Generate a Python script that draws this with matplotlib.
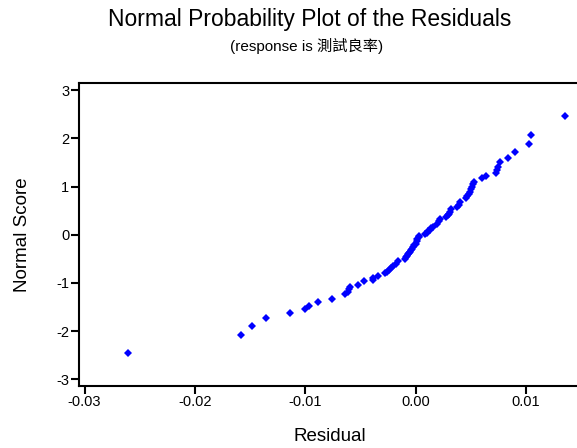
import matplotlib
matplotlib.use("Agg")
import matplotlib.pyplot as plt

# residuals (x) and normal scores (y)
residual = [
    -0.0261, -0.0158, -0.0148, -0.0136, -0.0114, -0.0100, -0.0097, -0.0088,
    -0.0076, -0.0064, -0.0061, -0.0060, -0.0059, -0.0052, -0.0047, -0.0039,
    -0.0039, -0.0034, -0.0028, -0.0026, -0.0024, -0.0022, -0.0020, -0.0018,
    -0.0016, -0.0010, -0.0009, -0.0008, -0.0007, -0.0006, -0.0005, -0.0004,
    -0.0003, -0.0002, -0.0001, 0.0000, 0.0001, 0.0001, 0.0003, 0.0003,
    0.0009, 0.0010, 0.0011, 0.0013, 0.0014, 0.0016, 0.0019, 0.0021,
    0.0022, 0.0028, 0.0029, 0.0030, 0.0031, 0.0032, 0.0038, 0.0039,
    0.0040, 0.0046, 0.0047, 0.0048, 0.0049, 0.0050, 0.0051, 0.0052,
    0.0053, 0.0060, 0.0064, 0.0073, 0.0074, 0.0075, 0.0077, 0.0084,
    0.0090, 0.0103, 0.0105, 0.01355,
]
normal_score = [
    -2.46, -2.08, -1.89, -1.73, -1.62, -1.54, -1.47, -1.39,
    -1.33, -1.24, -1.19, -1.13, -1.09, -1.04, -0.97, -0.93,
    -0.90, -0.85, -0.80, -0.77, -0.73, -0.69, -0.64, -0.60,
    -0.55, -0.50, -0.47, -0.44, -0.41, -0.38, -0.35, -0.32,
    -0.29, -0.26, -0.22, -0.19, -0.13, -0.09, -0.05, -0.02,
    0.01, 0.04, 0.07, 0.10, 0.14, 0.17, 0.23, 0.28,
    0.33, 0.36, 0.40, 0.44, 0.48, 0.53, 0.58, 0.62,
    0.67, 0.76, 0.80, 0.84, 0.89, 0.95, 1.00, 1.05,
    1.09, 1.18, 1.21, 1.29, 1.35, 1.40, 1.51, 1.60,
    1.72, 1.88, 2.07, 2.46,
]
x_ticks = [-0.03, -0.02, -0.01, 0.00, 0.01]
y_ticks = [-3, -2, -1, 0, 1, 2, 3]

fonts = ['Liberation Sans', 'Noto Sans CJK TC', 'DejaVu Sans']
plt.rcParams['font.family'] = fonts
plt.rcParams['axes.unicode_minus'] = False

fig = plt.figure(figsize=(5.77, 4.48), dpi=100)
ax = fig.add_axes([0.137, 0.138, 0.87, 0.676])

ax.plot(residual, normal_score, linestyle='none', marker='D',
        markersize=4.4, color='#0000ff', markeredgewidth=0)

ax.set_xlim(-0.0305, 0.0150)
ax.set_ylim(-3.145, 3.145)
ax.set_xticks(x_ticks)
ax.set_xticklabels(['%.2f' % v for v in x_ticks])
ax.set_yticks(y_ticks)
ax.tick_params(direction='out', length=6, width=1.5, labelsize=10.5, pad=1)
ax.tick_params(axis='x', pad=0)
for side in ['left', 'bottom', 'top', 'right']:
    ax.spines[side].set_linewidth(1.5)

ax.set_xlabel('Residual', fontsize=13.5, labelpad=14)
ax.set_ylabel('Normal Score', fontsize=13.5, labelpad=18)

fig.text(0.537, 0.957, 'Normal Probability Plot of the Residuals',
         ha='center', va='center', fontsize=16.5)
fig.text(0.532, 0.897, '(response is 測試良率)', ha='center', va='center',
         fontsize=11)

fig.savefig('out.png', dpi=100)
